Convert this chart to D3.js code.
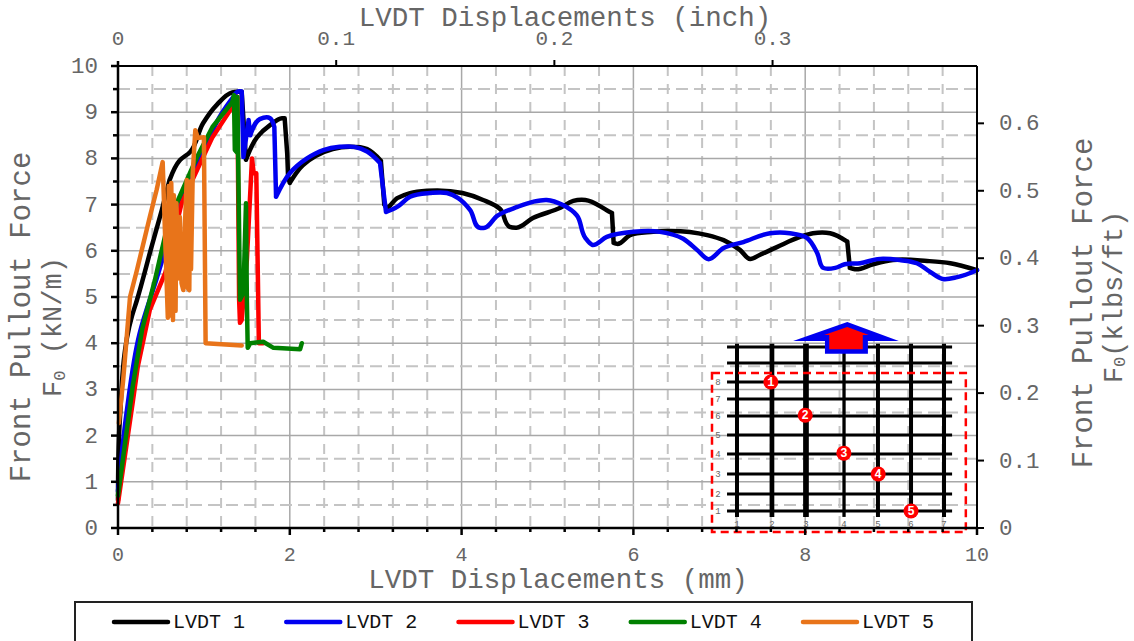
<!DOCTYPE html>
<html><head><meta charset="utf-8">
<script src="https://cdn.jsdelivr.net/npm/d3@7"></script>
<style>html,body{margin:0;padding:0;background:#fff;overflow:hidden}svg{display:block}
text{font-family:"Liberation Mono",monospace;fill:#666}</style></head><body>
<svg id="c" width="1134" height="641"></svg>
<script>
const lvdt1=[[0,0.6],[0.02,2.3],[0.16,4.57],[0.22,4.93],[0.37,5.95],[0.51,6.88],[0.6,7.53],[0.72,7.96],[0.84,8.14],[0.99,8.76],[1.15,9.16],[1.33,9.43],[1.44,9.44],[1.49,7.97],[1.62,8.46],[1.77,8.72],[1.91,8.87],[1.94,8.87],[1.97,8.1],[1.98,7.6],[2.0,7.47],[2.15,7.85],[2.3,8.05],[2.5,8.2],[2.7,8.25],[2.9,8.2],[3.06,7.95],[3.1,7.0],[3.12,6.95],[3.25,7.14],[3.4,7.25],[3.6,7.3],[4.01,7.25],[4.25,7.1],[4.45,6.9],[4.56,6.52],[4.64,6.5],[4.83,6.71],[5.15,6.93],[5.3,7.08],[5.44,7.1],[5.69,6.88],[5.75,6.82],[5.77,6.17],[5.81,6.15],[5.96,6.34],[6.23,6.41],[6.39,6.43],[6.86,6.34],[7.05,6.23],[7.24,6.02],[7.36,5.82],[7.47,5.91],[7.67,6.08],[7.94,6.3],[8.09,6.38],[8.29,6.38],[8.49,6.2],[8.52,5.63],[8.58,5.6],[8.79,5.71],[9.02,5.8],[9.42,5.78],[9.69,5.73],[10,5.58]];
const lvdt2=[[0,0.8],[0.1,2.5],[0.25,4.2],[0.45,5.4],[0.6,6.3],[0.8,7.4],[1.0,8.2],[1.2,8.95],[1.33,9.3],[1.4,9.45],[1.44,9.45],[1.46,8.03],[1.52,8.83],[1.54,8.5],[1.65,8.85],[1.77,8.87],[1.82,8.68],[1.84,7.17],[2.0,7.68],[2.2,8.0],[2.39,8.18],[2.58,8.25],[2.75,8.25],[2.9,8.15],[3.05,7.9],[3.12,6.84],[3.25,6.95],[3.4,7.17],[3.63,7.25],[3.83,7.25],[3.96,7.14],[4.1,6.88],[4.21,6.5],[4.27,6.5],[4.41,6.75],[4.65,6.95],[4.83,7.06],[4.99,7.1],[5.18,6.99],[5.34,6.77],[5.44,6.28],[5.52,6.13],[5.69,6.3],[6.0,6.41],[6.31,6.41],[6.58,6.26],[6.74,6.02],[6.87,5.82],[7.05,6.06],[7.28,6.19],[7.59,6.38],[7.82,6.38],[8.02,6.28],[8.14,5.95],[8.21,5.63],[8.35,5.63],[8.46,5.71],[8.64,5.73],[8.84,5.82],[9.1,5.8],[9.3,5.73],[9.45,5.55],[9.6,5.39],[9.77,5.43],[10,5.58]];
const lvdt3=[[0,0.54],[0.17,2.7],[0.23,3.49],[0.37,4.72],[0.55,5.52],[0.74,7.03],[0.92,7.75],[1.1,8.46],[1.33,9.11],[1.39,9.33],[1.41,4.94],[1.42,4.44],[1.44,4.5],[1.5,5.8],[1.56,8.0],[1.58,7.68],[1.61,7.68],[1.64,4.0],[1.69,4.0]];
const lvdt4=[[0,0.7],[0.17,3.05],[0.28,4.29],[0.43,5.37],[0.57,6.5],[0.7,7.1],[0.92,8.03],[1.1,8.68],[1.33,9.22],[1.35,9.37],[1.36,8.18],[1.38,8.14],[1.39,9.33],[1.42,4.94],[1.46,5.09],[1.49,7.03],[1.5,4.94],[1.51,3.9],[1.54,4.0],[1.69,4.03],[1.81,3.9],[2.12,3.87],[2.14,4.0]];
const lvdt5=[[0.01,2.27],[0.06,3.2],[0.14,5.0],[0.22,5.58],[0.37,6.73],[0.45,7.32],[0.52,7.92],[0.58,4.55],[0.59,7.4],[0.61,4.6],[0.62,7.47],[0.64,4.5],[0.65,7.2],[0.67,4.7],[0.68,7.03],[0.7,5.4],[0.72,6.73],[0.74,5.3],[0.76,5.15],[0.78,6.6],[0.8,7.53],[0.81,5.2],[0.83,5.15],[0.84,7.5],[0.85,5.6],[0.87,7.68],[0.9,8.61],[0.93,8.44],[1.0,8.46],[1.02,4.0],[1.44,3.95]];
const seriesNames=["LVDT 1","LVDT 2","LVDT 3","LVDT 4","LVDT 5"];
const seriesColors=["#000000","#0000f0","#ff0000","#008000","#e8741a"];
const seriesData=[lvdt1,lvdt2,lvdt3,lvdt4,lvdt5];
const bottomTicks=[0,2,4,6,8,10];
const leftTicks=[0,1,2,3,4,5,6,7,8,9,10];
const topTicks=[0,0.1,0.2,0.3];
const rightTicks=[0,0.1,0.2,0.3,0.4,0.5,0.6];
const insetColsMm=[7.206,7.613,8.009,8.452,8.847,9.232,9.616];
const insetColWidths=[4,4.7,5.7,3.3,4,4,4];
const insetRowsKn=[3.918,3.571,3.16,2.792,2.424,2.013,1.602,1.169,0.736,0.368];
const insetRowLabels=["","","8","7","6","5","4","3","2","1"];
const insetPoints=[[7.6,3.16,"1"],[8.0,2.44,"2"],[8.45,1.62,"3"],[8.85,1.169,"4"],[9.232,0.368,"5"]];

const svg=d3.select("#c");
const x=d3.scaleLinear().domain([0,10]).range([118,977]);
const y=d3.scaleLinear().domain([0,10]).range([528,66]);
const xIn=d3.scaleLinear().domain([0,10/25.4]).range([118,977]);
const yK=d3.scaleLinear().domain([0,10*0.0685]).range([528,66]);
const grid=svg.append("g");
d3.range(0,10.01,0.4).forEach(v=>{
 const major=Math.abs(v/2-Math.round(v/2))<1e-6;
 if(v<0.1||v>9.9)return;
 grid.append("line").attr("x1",x(v)).attr("x2",x(v)).attr("y1",66).attr("y2",528)
  .attr("stroke",major?"#a8a8a8":"#c4c4c4").attr("stroke-width",major?1.5:2).attr("stroke-dasharray",major?null:"10 8");
});
d3.range(0.5,10,0.5).forEach(v=>{
 const major=Number.isInteger(v);
 grid.append("line").attr("x1",118).attr("x2",977).attr("y1",y(v)).attr("y2",y(v))
  .attr("stroke",major?"#a8a8a8":"#c4c4c4").attr("stroke-width",major?1.5:2).attr("stroke-dasharray",major?null:"12 6");
});
const line=d3.line().x(d=>x(d[0])).y(d=>y(d[1]));
const smooth=d3.line().x(d=>x(d[0])).y(d=>y(d[1])).curve(d3.curveCatmullRom.alpha(1));
// split a series at its sudden drops so only the gentle stretches get rounded
function splitAtDrops(d){
 const out=[];let cur=[d[0]];
 for(let i=1;i<d.length;i++){
  const steep=Math.abs((d[i][1]-d[i-1][1])/(d[i][0]-d[i-1][0]))>6;
  if(steep&&d[i][0]>0.5){out.push(cur);cur=[d[i-1],d[i]];out.push(cur);cur=[d[i]];}
  else cur.push(d[i]);
 }
 out.push(cur);return out.filter(s=>s.length>1);
}
seriesData.forEach((d,i)=>{
 const parts=i<2?splitAtDrops(d):[d];
 const path=parts.map(p=>(i<2?smooth:line)(p)).join("");
 svg.append("path").attr("d",path).attr("fill","none")
  .attr("stroke",seriesColors[i]).attr("stroke-width",4.5).attr("stroke-linejoin","round").attr("stroke-linecap","round");
});

// inset
const ins=svg.append("g");
insetRowsKn.forEach(r=>ins.append("line").attr("x1",x(7.09)).attr("x2",x(9.71)).attr("y1",y(r)).attr("y2",y(r)).attr("stroke","#000").attr("stroke-width",3));
insetColsMm.forEach((c,i)=>ins.append("line").attr("x1",x(c)).attr("x2",x(c)).attr("y1",y(3.99)).attr("y2",y(0.24)).attr("stroke","#000").attr("stroke-width",insetColWidths[i]));
ins.append("rect").attr("x",x(6.915)).attr("y",y(3.355)).attr("width",x(9.87)-x(6.915)).attr("height",y(-0.087)-y(3.355))
 .attr("fill","none").attr("stroke","#f00").attr("stroke-width",2.5).attr("stroke-dasharray","8 5");
const arrow=(pts,f)=>ins.append("polygon").attr("points",pts.map(p=>[x(p[0]),y(p[1])].join(",")).join(" ")).attr("fill",f);
arrow([[8.49,4.46],[9.09,4.05],[8.73,4.05],[8.73,3.77],[8.23,3.77],[8.23,4.05],[7.86,4.05]],"#0000f0");
arrow([[8.49,4.35],[8.74,4.18],[8.67,4.18],[8.67,3.87],[8.28,3.87],[8.28,4.18],[8.22,4.18]],"#ff0000");
insetColsMm.forEach((c,i)=>ins.append("text").attr("x",x(c)).attr("y",527).attr("text-anchor","middle").attr("font-size",9).text(i+1));
insetRowsKn.forEach((r,i)=>ins.append("text").attr("x",718).attr("y",y(r)+3).attr("text-anchor","middle").attr("font-size",9).text(insetRowLabels[i]));
insetPoints.forEach(p=>{
 ins.append("circle").attr("cx",x(p[0])).attr("cy",y(p[1])).attr("r",7.5).attr("fill","#f00");
 ins.append("text").attr("x",x(p[0])).attr("y",y(p[1])+4).attr("text-anchor","middle").attr("font-size",12).attr("font-weight","bold").style("fill","#fff").text(p[2]);
});

// frame + ticks
const ax=svg.append("g");
const L=(a,b,c,d,w,col)=>ax.append("line").attr("x1",a).attr("y1",b).attr("x2",c).attr("y2",d).attr("stroke",col||"#000").attr("stroke-width",w);
L(118,528,977,528,2.5);L(118,66,977,66,2);L(118,61,118,529,2.5);L(977,66,977,529,2);
d3.range(0,10.01,0.4).forEach(v=>{const m=Math.abs(v/2-Math.round(v/2))<1e-6;L(x(v),528,x(v),m?535:532,2.5);});
d3.range(0,10.01,0.5).forEach(v=>{const m=Number.isInteger(v);L(m?111:113,y(v),118,y(v),2.5);});
topTicks.slice(1).forEach(v=>L(xIn(v),66,xIn(v),60,2));
rightTicks.forEach(v=>L(977,yK(v),984,yK(v),2));

const T=(s,px,py,fs,anchor)=>ax.append("text").attr("x",px).attr("y",py).attr("font-size",fs).attr("text-anchor",anchor||"middle").text(s);
bottomTicks.forEach(v=>T(v,x(v),561,20));
leftTicks.forEach(v=>T(v,98,y(v)+7,22.5,"end"));
topTicks.forEach(v=>T(v,xIn(v),45,21));
rightTicks.forEach(v=>T(v,999,yK(v)+7,22.5,"start"));
T("LVDT Displacements (mm)",558,588,27.5);
T("LVDT Displacements (inch)",565,26,27.5);
const V=(s,px,py,fs)=>ax.append("text").attr("transform",`translate(${px},${py}) rotate(-90)`).attr("font-size",fs).attr("text-anchor","middle").text(s);
V("Front Pullout Force",30,317,29);
const f0=ax.append("text").attr("transform","translate(61,327) rotate(-90)").attr("font-size",27).attr("text-anchor","middle");
f0.append("tspan").text("F");f0.append("tspan").attr("font-size",17).attr("dy",4).text("0");f0.append("tspan").attr("dy",-4).text(" (kN/m)");
V("Front Pullout Force",1092,303,29);
const f1=ax.append("text").attr("transform","translate(1122,297) rotate(-90)").attr("font-size",27).attr("text-anchor","middle");
f1.append("tspan").text("F");f1.append("tspan").attr("font-size",17).attr("dy",3).text("0");f1.append("tspan").attr("dy",-3).text("(klbs/ft)");

// legend
const leg=svg.append("g");
leg.append("rect").attr("x",75).attr("y",602).attr("width",897).attr("height",60).attr("fill","#fff").attr("stroke","#222").attr("stroke-width",2);
const legX=d3.scalePoint().domain(seriesNames).range([114,803]);
seriesNames.forEach((n,i)=>{
 leg.append("line").attr("x1",legX(n)).attr("x2",legX(n)+54).attr("y1",622).attr("y2",622).attr("stroke",seriesColors[i]).attr("stroke-width",4.5).attr("stroke-linecap","round");
 leg.append("text").attr("x",legX(n)+59).attr("y",628).attr("font-size",20).style("fill","#111").text(n);
});
</script></body></html>
